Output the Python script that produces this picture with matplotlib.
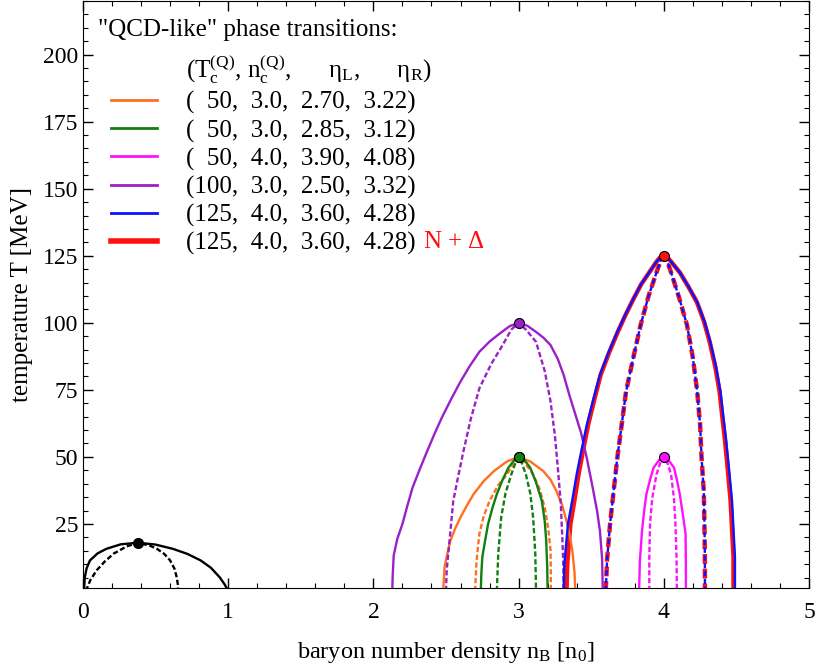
import matplotlib
matplotlib.use("Agg")
import matplotlib.pyplot as plt
from matplotlib.lines import Line2D
from matplotlib.ticker import MultipleLocator

plt.rcParams["font.family"] = ["Liberation Serif", "DejaVu Serif"]
plt.rcParams["mathtext.fontset"] = "custom"
plt.rcParams["mathtext.rm"] = "Liberation Serif"
plt.rcParams["mathtext.it"] = "Liberation Serif:italic"
plt.rcParams["mathtext.default"] = "regular"

# ---- data ----
# nuclear liquid-gas transition: coexistence (solid) and spinodal (dashed)
nuc_n = [0.007, 0.012, 0.025, 0.048, 0.10, 0.16, 0.26, 0.38, 0.50, 0.62, 0.72,
         0.81, 0.88, 0.94, 0.975, 1.00]
nuc_T = [0.0, 5.0, 8.5, 11.4, 14.0, 15.7, 17.4, 18.0, 17.3, 15.7, 13.8,
         11.4, 8.7, 5.2, 2.5, 0.0]
nuc_sp_n = [0.02, 0.05, 0.094, 0.15, 0.21, 0.30, 0.38, 0.46, 0.51, 0.56, 0.60,
            0.63, 0.645, 0.653, 0.656]
nuc_sp_T = [0.0, 4.0, 7.7, 11.0, 13.9, 16.6, 18.0, 16.9, 15.7, 13.8, 11.4,
            8.3, 5.2, 2.5, 0.0]

# orange: (50, 3.0, 2.70, 3.22)
or_n = [2.48, 2.485, 2.49, 2.51, 2.53, 2.565, 2.60, 2.645, 2.69, 2.76, 2.83, 2.92,
        3.00, 3.08, 3.17, 3.22, 3.26, 3.30, 3.33, 3.355, 3.37, 3.385, 3.39]
or_T = [0.0, 4.0, 9.0, 14.0, 18.8, 23.5, 27.5, 32.0, 36.1, 41.0, 44.7, 48.3,
        50.0, 48.3, 44.7, 41.5, 37.3, 32.0, 26.2, 20.0, 15.1, 7.0, 0.0]
or_sp_n = [2.70, 2.71, 2.73, 2.76, 2.80, 2.86, 2.92, 2.97, 3.00, 3.04, 3.10,
           3.145, 3.18, 3.205, 3.22, 3.222, 3.222]
or_sp_T = [0.0, 11.0, 21.3, 28.0, 33.6, 39.5, 43.5, 48.0, 50.0, 48.0, 43.5,
           38.0, 31.1, 23.0, 15.1, 7.0, 0.0]

# green: (50, 3.0, 2.85, 3.12)
gr_n = [2.74, 2.743, 2.75, 2.77, 2.79, 2.82, 2.85, 2.89, 2.93, 2.97, 3.00,
        3.04, 3.08, 3.12, 3.16, 3.18, 3.19, 3.197, 3.20]
gr_T = [0.0, 6.0, 12.6, 19.0, 25.0, 31.0, 36.1, 41.5, 46.0, 48.8, 50.0,
        48.8, 46.0, 40.5, 33.6, 26.0, 18.8, 9.0, 0.0]
gr_sp_n = [2.85, 2.86, 2.88, 2.91, 2.95, 2.98, 3.00, 3.02, 3.05, 3.08, 3.10, 3.115, 3.12]
gr_sp_T = [0.0, 14.0, 27.5, 36.5, 43.5, 48.0, 50.0, 48.0, 43.5, 36.5, 27.5, 14.0, 0.0]

# magenta: (50, 4.0, 3.90, 4.08)
mg_n = [3.83, 3.835, 3.85, 3.865, 3.88, 3.905, 3.93, 3.97, 4.00, 4.03, 4.07,
        4.09, 4.11, 4.13, 4.15, 4.152, 4.152]
mg_T = [0.0, 11.0, 22.5, 30.0, 36.1, 41.5, 46.0, 49.0, 50.0, 49.0, 46.0,
        41.5, 36.1, 29.0, 21.3, 10.0, 0.0]
mg_sp_n = [3.90, 3.90, 3.905, 3.92, 3.95, 3.98, 4.00, 4.02, 4.05, 4.07, 4.08, 4.088, 4.09]
mg_sp_T = [0.0, 12.0, 25.0, 34.5, 43.5, 48.5, 50.0, 48.5, 43.5, 34.5, 25.0, 12.0, 0.0]

# purple: (100, 3.0, 2.50, 3.32)
pu_n = [2.13, 2.133, 2.14, 2.165, 2.20, 2.235, 2.27, 2.32, 2.37, 2.42, 2.47, 2.535,
        2.60, 2.665, 2.73, 2.80, 2.87, 2.94, 3.00, 3.06, 3.12, 3.17, 3.22, 3.27,
        3.31, 3.35, 3.39, 3.43, 3.47, 3.51, 3.54, 3.56, 3.575, 3.58]
pu_T = [0.0, 6.0, 13.3, 19.5, 25.0, 32.0, 38.6, 45.5, 52.1, 58.5, 64.5, 71.5,
        78.1, 84.0, 89.2, 93.0, 96.0, 98.8, 100.0, 98.9, 96.6, 94.5, 91.7, 86.5,
        80.6, 73.0, 66.0, 59.0, 49.5, 38.6, 30.0, 22.5, 12.0, 0.0]
pu_sp_n = [2.50, 2.505, 2.52, 2.535, 2.55, 2.585, 2.62, 2.67, 2.73, 2.81, 2.89,
           2.95, 3.00, 3.05, 3.12, 3.18, 3.22, 3.25, 3.27, 3.29, 3.30, 3.308, 3.31]
pu_sp_T = [0.0, 8.0, 16.3, 25.0, 33.6, 43.0, 52.1, 64.0, 75.6, 84.5, 91.7,
           97.5, 100.0, 97.5, 92.9, 82.0, 70.7, 58.0, 46.0, 33.0, 21.3, 10.0, 0.0]

# blue: (125, 4.0, 3.60, 4.28)
bl_n = [3.31, 3.315, 3.34, 3.37, 3.40, 3.435, 3.47, 3.515, 3.56, 3.62, 3.68, 3.735,
        3.79, 3.845, 3.90, 3.95, 3.975, 4.00, 4.025, 4.05, 4.11, 4.17, 4.23, 4.28,
        4.32, 4.36, 4.39, 4.41, 4.43, 4.45, 4.47, 4.48, 4.49, 4.49]
bl_T = [0.0, 10.0, 25.0, 34.0, 43.5, 53.0, 62.0, 71.5, 80.6, 89.0, 96.6, 103.0,
        108.9, 114.5, 118.8, 122.8, 124.4, 125.0, 124.4, 122.8, 118.8, 113.5, 107.7,
        100.5, 92.9, 83.5, 74.4, 65.0, 55.9, 45.0, 33.6, 23.0, 12.6, 0.0]
bl_sp_n = [3.60, 3.61, 3.63, 3.655, 3.68, 3.71, 3.74, 3.79, 3.84, 3.895, 3.95, 3.98,
           4.00, 4.02, 4.05, 4.105, 4.16, 4.20, 4.23, 4.25, 4.26, 4.275, 4.28, 4.283, 4.283]
bl_sp_T = [0.0, 12.0, 25.0, 37.5, 49.7, 62.0, 74.4, 87.0, 99.1, 110.0, 118.8, 123.5,
           125.0, 123.5, 118.8, 109.5, 99.1, 87.0, 74.4, 62.0, 49.7, 37.5, 25.0, 12.0, 0.0]

# red: (125, 4.0, 3.60, 4.28) with N + Delta
rd_n = [3.33, 3.335, 3.357, 3.385, 3.413, 3.446, 3.479, 3.522, 3.565, 3.624, 3.683, 3.737,
        3.791, 3.846, 3.90, 3.95, 3.975, 4.00, 4.025, 4.05, 4.11, 4.169, 4.228, 4.277,
        4.316, 4.355, 4.384, 4.403, 4.422, 4.441, 4.46, 4.47, 4.48, 4.48]
rd_T = bl_T
rd_sp_n = bl_sp_n
rd_sp_T = bl_sp_T

crit_n = [0.38, 3.0, 3.0, 4.0, 3.0, 4.0]
crit_T = [18.0, 50.0, 50.0, 50.0, 100.0, 125.0]

labels = [
    "(  50,  3.0,  2.70,  3.22)",
    "(  50,  3.0,  2.85,  3.12)",
    "(  50,  4.0,  3.90,  4.08)",
    "(100,  3.0,  2.50,  3.32)",
    "(125,  4.0,  3.60,  4.28)",
    "(125,  4.0,  3.60,  4.28)",
]
header = r"($T_c^{(Q)}$, $n_c^{(Q)}$,      $\eta_L$,      $\eta_R$)"

# ---- plotting ----
fig = plt.figure(figsize=(8.17, 6.70), dpi=100)
ax = fig.add_axes([83 / 817, 1 - 588.3 / 670, 726 / 817, 587.3 / 670])

lw = 1.7
dash = (0, (2.2, 1.1))

ax.plot(nuc_n, nuc_T, color="black", lw=lw)
ax.plot(nuc_sp_n, nuc_sp_T, color="black", lw=lw, ls=dash)

curves = [
    (or_n, or_T, or_sp_n, or_sp_T, "#ff6f1e", lw, 3),
    (gr_n, gr_T, gr_sp_n, gr_sp_T, "#108010", lw, 3),
    (mg_n, mg_T, mg_sp_n, mg_sp_T, "#ff10ff", lw, 3),
    (pu_n, pu_T, pu_sp_n, pu_sp_T, "#9a20c8", lw, 3),
    (bl_n, bl_T, bl_sp_n, bl_sp_T, "#0a14ff", lw, 4),
    (rd_n, rd_T, rd_sp_n, rd_sp_T, "#ff1010", 3.2, 2),
]
handles = []
for n, T, sn, sT, c, w, z in curves:
    h, = ax.plot(n, T, color=c, lw=w, zorder=z)
    ax.plot(sn, sT, color=c, lw=w, ls=dash, zorder=z)
    handles.append(h)

# critical points
crit_colors = ["black", "#ff6f1e", "#108010", "#ff10ff", "#9a20c8", "#ff1010"]
for i in range(len(crit_n)):
    ax.plot(crit_n[i], crit_T[i], "o", ms=7.2, mfc=crit_colors[i], mec="black",
            mew=0.8, zorder=6)

ax.set_xlim(0, 5)
ax.set_ylim(1, 220)
ax.xaxis.set_major_locator(MultipleLocator(1))
ax.xaxis.set_minor_locator(MultipleLocator(0.2))
ax.yaxis.set_minor_locator(MultipleLocator(5))
ax.set_yticks([25, 50, 75, 100, 125, 150, 175, 200])
ax.tick_params(which="both", direction="in", top=True, right=True, labelsize=17)
ax.tick_params(which="major", length=7, width=1)
ax.tick_params(which="minor", length=3.5, width=0.8)
ax.tick_params(axis="x", pad=10)
ax.set_xlabel(r"baryon number density $n_B$ [$n_0$]", fontsize=17.5, labelpad=12)
ax.set_ylabel("temperature T [MeV]", fontsize=18, labelpad=7)

ax.text(15 / 726, (588.3 - 30) / 587.3, '"QCD-like" phase transitions:',
        transform=ax.transAxes, fontsize=18, va="center", ha="left")

hdr = Line2D([], [], color="none")
leg = ax.legend([hdr] + handles, [header] + labels, loc="upper left",
                bbox_to_anchor=(28 / 726, (588.3 - 54) / 587.3),
                frameon=False, fontsize=18, handlelength=1.85,
                handletextpad=1.15, borderpad=0, borderaxespad=0,
                labelspacing=0.2)
for line in leg.get_lines()[1:-1]:
    line.set_linewidth(2.0)
leg.get_lines()[-1].set_linewidth(4)
ax.text((423 - 83) / 726, (588.3 - 242) / 587.3, r"N + $\Delta$",
        transform=ax.transAxes, fontsize=18, color="#ff1010", va="center")

fig.savefig("out.png", dpi=100)
